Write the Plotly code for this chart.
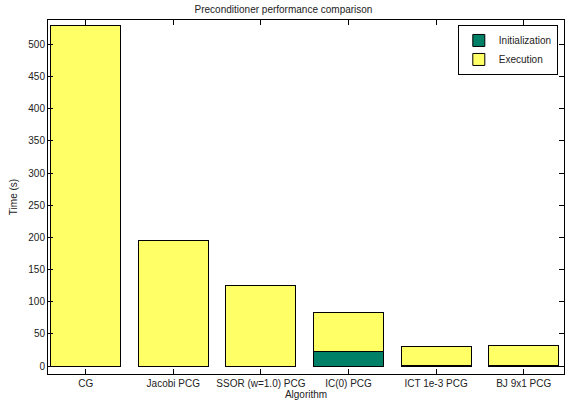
import plotly.graph_objects as go

categories = ["CG", "Jacobi PCG", "SSOR (w=1.0) PCG", "IC(0) PCG", "ICT 1e-3 PCG", "BJ 9x1 PCG"]
init_time = [0, 0, 0, 23.3, 1.5, 0.5]
exec_time = [530, 195.6, 125.8, 60.1, 29.5, 32.1]
yticks = [0, 50, 100, 150, 200, 250, 300, 350, 400, 450, 500]

xpos = list(range(1, len(categories) + 1))

fig = go.Figure()
fig.add_trace(go.Bar(x=xpos, y=init_time, name="Initialization", width=0.8,
                     marker=dict(color="#008066", line=dict(color="black", width=1))))
fig.add_trace(go.Bar(x=xpos, y=exec_time, name="Execution", width=0.8,
                     marker=dict(color="#FFFF66", line=dict(color="black", width=1))))

axis_common = dict(showline=True, linecolor="black", linewidth=1, mirror="allticks",
                   ticks="inside", ticklen=5, tickcolor="black", showgrid=False,
                   zeroline=False, automargin=False, tickfont=dict(size=10, color="#222"))

fig.update_layout(
    barmode="stack",
    width=567, height=405,
    margin=dict(l=48, r=3, t=20, b=31, autoexpand=False),
    paper_bgcolor="white", plot_bgcolor="white",
    font=dict(family="Liberation Sans, Arial, sans-serif", size=10, color="#222"),
    title=dict(text="Preconditioner performance comparison", x=0.5, xanchor="center",
               y=1 - 9 / 405, yanchor="middle", font=dict(size=10)),
    xaxis=dict(range=[0.57, 6.46], tickvals=xpos, ticktext=categories,
               title=dict(text="Algorithm", standoff=2, font=dict(size=10)), **axis_common),
    yaxis=dict(range=[-12.4, 538], tickvals=yticks,
               title=dict(text="Time (s)", standoff=8, font=dict(size=10)), **axis_common),
    legend=dict(x=0.988, y=0.986, xanchor="right", yanchor="top", bgcolor="white",
                bordercolor="black", borderwidth=1, font=dict(size=10),
                tracegroupgap=0, itemwidth=30, traceorder="normal"),
    bargap=0.2,
)

fig.write_html("out.html", config={"displayModeBar": False},
               post_script="document.body.style.margin='0';")
